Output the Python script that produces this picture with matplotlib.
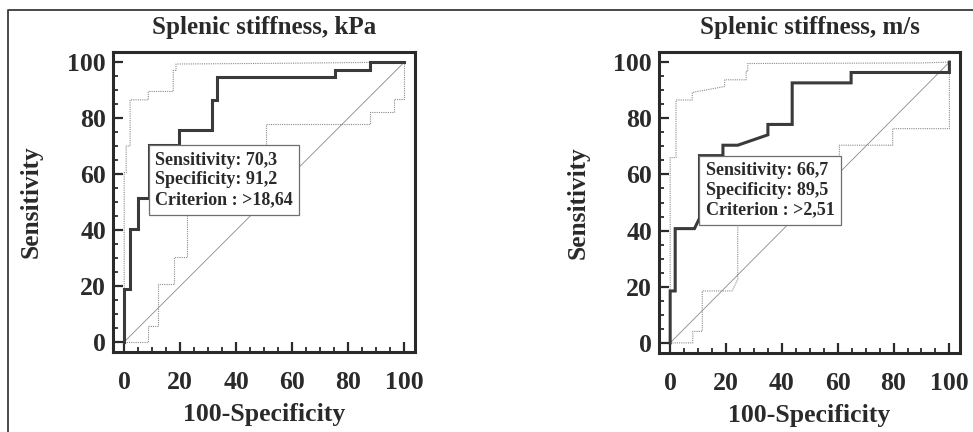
import matplotlib
matplotlib.use("Agg")
import matplotlib.pyplot as plt
from matplotlib.lines import Line2D
from matplotlib.ticker import MultipleLocator

plt.rcParams['font.family'] = ['Liberation Serif', 'DejaVu Serif']
plt.rcParams['font.weight'] = 'bold'
plt.rcParams['axes.labelweight'] = 'bold'
plt.rcParams['axes.titleweight'] = 'bold'

# ROC, kPa (thick line + dotted 95% CI bands)
kpa_fpr = [0, 0, 1.9, 1.9, 5.1, 5.1, 8.8, 8.8, 19.4, 19.4, 31.3, 31.3, 33.3, 33.3, 75.4, 75.4, 87.6, 87.6, 100]
kpa_tpr = [0, 18.9, 18.9, 40.5, 40.5, 51.4, 51.4, 70.3, 70.3, 75.7, 75.7, 86.5, 86.5, 94.6, 94.6, 97.3, 97.3, 100, 100]
kpa_up_fpr = [0, 0, 0.7, 0.7, 2.1, 2.1, 8.6, 8.6, 17.5, 17.5, 18.5, 18.5, 60, 100]
kpa_up_tpr = [0, 60.5, 60.5, 70, 70, 86.5, 86.5, 89.5, 89.5, 97, 97, 99.3, 99.6, 100]
kpa_lo_fpr = [0, 8.6, 8.6, 11.9, 11.9, 17.6, 17.6, 22.4, 22.4, 50.6, 50.6, 87.9, 87.9, 96.2, 96.2, 100, 100]
kpa_lo_tpr = [0, 0, 5.7, 5.7, 20.7, 20.7, 30.2, 30.2, 56, 56, 77.8, 77.8, 82.2, 82.2, 86.9, 86.9, 100]
kpa_sens, kpa_spec, kpa_crit = 70.3, 91.2, ">18,64"

# ROC, m/s
ms_fpr = [0, 0, 1.8, 1.8, 8.7, 10.5, 10.5, 18.9, 18.9, 24.2, 35.0, 35.0, 43.7, 43.7, 64.8, 64.8, 100, 100]
ms_tpr = [0, 18.5, 18.5, 40.7, 40.7, 44.4, 66.7, 66.7, 70.4, 70.4, 74.1, 77.8, 77.8, 92.6, 92.6, 96.3, 96.3, 100]
ms_up_fpr = [0, 0, 2.1, 2.1, 7.9, 7.9, 19.5, 19.5, 27.2, 27.2, 27.8, 27.8, 90, 100]
ms_up_tpr = [0, 66, 66, 86.5, 86.5, 89.2, 91.3, 93.7, 93.7, 96.7, 96.7, 99.5, 99.7, 100]
ms_lo_fpr = [0, 8.1, 8.1, 11.5, 11.5, 22.2, 24.2, 24.2, 60.6, 60.6, 79.7, 79.7, 100, 100]
ms_lo_tpr = [0, 0, 4.1, 4.1, 18.5, 18.5, 22.6, 55, 55, 70.4, 70.4, 76.3, 76.3, 100]
ms_sens, ms_spec, ms_crit = 66.7, 89.5, ">2,51"

titles = ["Splenic stiffness, kPa", "Splenic stiffness, m/s"]
ticks = [0, 20, 40, 60, 80, 100]

dark = '#2a2a2a'


def fmt(v):
    return ("%.1f" % v).replace('.', ',')


def drawPanel(ax, title, fpr, tpr, up_fpr, up_tpr, lo_fpr, lo_tpr, sens, spec, crit):
    ax.plot([0, 100], [0, 100], color='#8a8a8a', linewidth=0.6)
    ax.plot(up_fpr, up_tpr, color='#8a8a8a', linewidth=0.8, linestyle=(0, (1, 1)))
    ax.plot(lo_fpr, lo_tpr, color='#8a8a8a', linewidth=0.8, linestyle=(0, (1, 1)))
    ax.plot(fpr, tpr, color='#3a3a3a', linewidth=2.2, solid_joinstyle='miter')

    txt = "Sensitivity: " + fmt(sens) + "\nSpecificity: " + fmt(spec) + "\nCriterion : " + crit
    ax.annotate(txt, xy=(100 - spec, sens), xytext=(4.6, -4.8), textcoords='offset points',
                ha='left', va='top', fontsize=13, color=dark, linespacing=1.2, zorder=5,
                bbox=dict(boxstyle='square,pad=0.36', facecolor='white', edgecolor='#6e6e6e', linewidth=0.9))

    ax.set_xlim(-4, 103.8)
    ax.set_ylim(-3.6, 103.6)
    ax.set_xticks(ticks)
    ax.set_yticks(ticks)
    ax.xaxis.set_minor_locator(MultipleLocator(5))
    ax.yaxis.set_minor_locator(MultipleLocator(5))
    ax.tick_params(which='major', direction='in', length=7.5, width=1.6, color=dark, labelsize=18.5,
                   labelcolor=dark, top=False, right=False)
    ax.tick_params(axis='x', which='major', pad=14)
    ax.tick_params(axis='y', which='major', pad=5)
    ax.tick_params(which='minor', direction='in', length=3.5, width=1.3, color=dark, top=False, right=False)
    for s in ax.spines.values():
        s.set_linewidth(2.2)
        s.set_color(dark)

    ax.set_title(title, fontsize=18, color=dark, pad=13, fontweight='bold')
    ax.set_xlabel("100-Specificity", fontsize=18.5, color=dark, fontweight='bold')
    ax.set_ylabel("Sensitivity", fontsize=18.3, color=dark, fontweight='bold')
    ax.xaxis.set_label_coords(0.5, -0.17)
    ax.yaxis.set_label_coords(-0.232, 0.5)


fig = plt.figure(figsize=(9.73, 4.32), dpi=100)
ax1 = fig.add_axes([113 / 973, 80 / 432, 302 / 973, 300 / 432])
ax2 = fig.add_axes([659 / 973, 79 / 432, 301 / 973, 301 / 432])

drawPanel(ax1, titles[0], kpa_fpr, kpa_tpr, kpa_up_fpr, kpa_up_tpr, kpa_lo_fpr, kpa_lo_tpr,
          kpa_sens, kpa_spec, kpa_crit)
drawPanel(ax2, titles[1], ms_fpr, ms_tpr, ms_up_fpr, ms_up_tpr, ms_lo_fpr, ms_lo_tpr,
          ms_sens, ms_spec, ms_crit)

# outer frame of the figure (left and top edges only)
bx = 8 / 973
by = 1 - 10 / 432
fig.add_artist(Line2D([bx, bx, 1], [0, by, by], transform=fig.transFigure, color='#3a3a3a', linewidth=1.3))

fig.savefig("out.png", dpi=100)
